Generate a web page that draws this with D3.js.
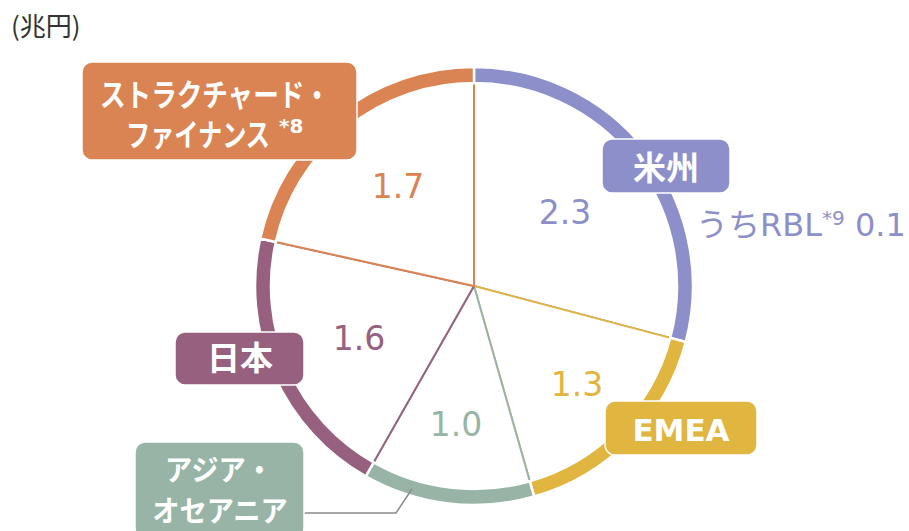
<!DOCTYPE html>
<html>
<head>
<meta charset="utf-8">
<script src="https://cdn.jsdelivr.net/npm/d3@7"></script>
<style>
  body { margin: 0; background: #fff; }
  svg { display: block; }
</style>
</head>
<body>
<div class="vis"></div>
<script>
// data
var regions = ["米州", "EMEA", "アジア・オセアニア", "日本", "ストラクチャード・ファイナンス"];
var values = [2.3, 1.3, 1.0, 1.6, 1.7];
var valueLabels = ["2.3", "1.3", "1.0", "1.6", "1.7"];
var colors = ["#8c8fc9", "#e0b540", "#97b4a6", "#98607f", "#d98452"];
var unitLabel = "(兆円)";
var rblLabel = "うちRBL";
var rblNote = "*9";
var rblValue = "0.1";

var width = 909, height = 531;
var cx = 474, cy = 286;
var rIn = 203, rOut = 219;

var svg = d3.select(".vis")
  .append("svg")
  .attr("width", width)
  .attr("height", height);

var jp = "'Noto Sans CJK JP', sans-serif";
var lat = "'DejaVu Sans', 'Noto Sans CJK JP', sans-serif";

// unit
svg.append("text")
  .attr("x", 11).attr("y", 36)
  .attr("font-family", jp)
  .attr("font-size", 26)
  .attr("fill", "#333")
  .text(unitLabel);

var pie = d3.pie().sort(null).value(function(d) { return d; });
var arcs = pie(values);

var g = svg.append("g")
  .attr("transform", "translate(" + cx + "," + cy + ")");

// slices: white fill, coloured edges (later ones draw over earlier)
g.selectAll("path.slice")
  .data(arcs)
  .enter()
  .append("path")
    .attr("class", "slice")
    .attr("d", d3.arc().innerRadius(0).outerRadius(rIn + 1))
    .attr("fill", "#fff")
    .attr("stroke", function(d, i) { return colors[i]; })
    .attr("stroke-width", 2)
    .attr("stroke-linejoin", "round");

// outer ring
g.selectAll("path.ring")
  .data(arcs)
  .enter()
  .append("path")
    .attr("class", "ring")
    .attr("d", d3.arc().innerRadius(rIn).outerRadius(rOut))
    .attr("fill", function(d, i) { return colors[i]; })
    .attr("stroke", "#fff")
    .attr("stroke-width", 2.5);

// value labels (placed by hand like the original)
var valuePos = [[565, 224], [577, 396], [456, 436], [359, 350], [398, 198]];
svg.selectAll("text.val")
  .data(valueLabels)
  .enter()
  .append("text")
    .attr("class", "val")
    .attr("x", function(d, i) { return valuePos[i][0]; })
    .attr("y", function(d, i) { return valuePos[i][1]; })
    .attr("text-anchor", "middle")
    .attr("font-family", lat)
    .attr("font-size", 33)
    .attr("fill", function(d, i) { return colors[i]; })
    .text(function(d) { return d; });

// RBL note
var rbl = svg.append("text")
  .attr("x", 696).attr("y", 236)
  .attr("font-family", lat)
  .attr("font-size", 32)
  .attr("fill", colors[0]);
rbl.append("tspan").text(rblLabel);
rbl.append("tspan").attr("font-size", 20).attr("dy", -11).text(rblNote);
rbl.append("tspan").attr("dy", 11).text(" " + rblValue);

// leader line for asia
svg.append("polyline")
  .attr("points", "304,513 396,513 412,489")
  .attr("fill", "none")
  .attr("stroke", "#8a8a8a")
  .attr("stroke-width", 1.5);

// label boxes
var boxes = [
  {x: 602, y: 139, w: 128, h: 54},
  {x: 605, y: 401, w: 152, h: 54},
  {x: 135, y: 442, w: 169, h: 96},
  {x: 175, y: 332, w: 129, h: 53},
  {x: 82, y: 62, w: 275, h: 98}
];
svg.selectAll("rect.box")
  .data(boxes)
  .enter()
  .append("rect")
    .attr("class", "box")
    .attr("x", function(d) { return d.x; })
    .attr("y", function(d) { return d.y; })
    .attr("width", function(d) { return d.w; })
    .attr("height", function(d) { return d.h; })
    .attr("rx", 10)
    .attr("fill", function(d, i) { return colors[i]; })
    .attr("stroke", "#fff")
    .attr("stroke-width", 1.5);

// white label text; sx squeezes kana horizontally (narrow like the original font)
function boxText(x, y, s, size, fam, opts) {
  opts = opts || {};
  var sx = opts.sx || 1;
  return svg.append("text")
    .attr("transform", "translate(" + x + "," + y + ") scale(" + sx + ",1)")
    .attr("text-anchor", opts.anchor || "middle")
    .attr("font-family", fam)
    .attr("font-weight", 700)
    .attr("font-size", size)
    .attr("fill", "#fff")
    .text(s);
}

boxText(666, 180, regions[0], 33, jp);
boxText(681, 441, regions[1], 31, "'DejaVu Sans', sans-serif");
var asia = regions[2].split("・");
boxText(219, 481, asia[0] + "・", 29, jp, {sx: 0.94});
boxText(220, 522, asia[1], 29, jp, {sx: 0.94});
boxText(240, 370, regions[3], 33, jp);
var sf = regions[4].split("・");
boxText(100, 106, sf[0] + "・", 31, jp, {anchor: "start", sx: 0.825});
boxText(126, 146, sf[1], 31, jp, {anchor: "start", sx: 0.78});
boxText(279, 133, "*8", 20, "'DejaVu Sans', sans-serif", {anchor: "start"});
</script>
</body>
</html>
